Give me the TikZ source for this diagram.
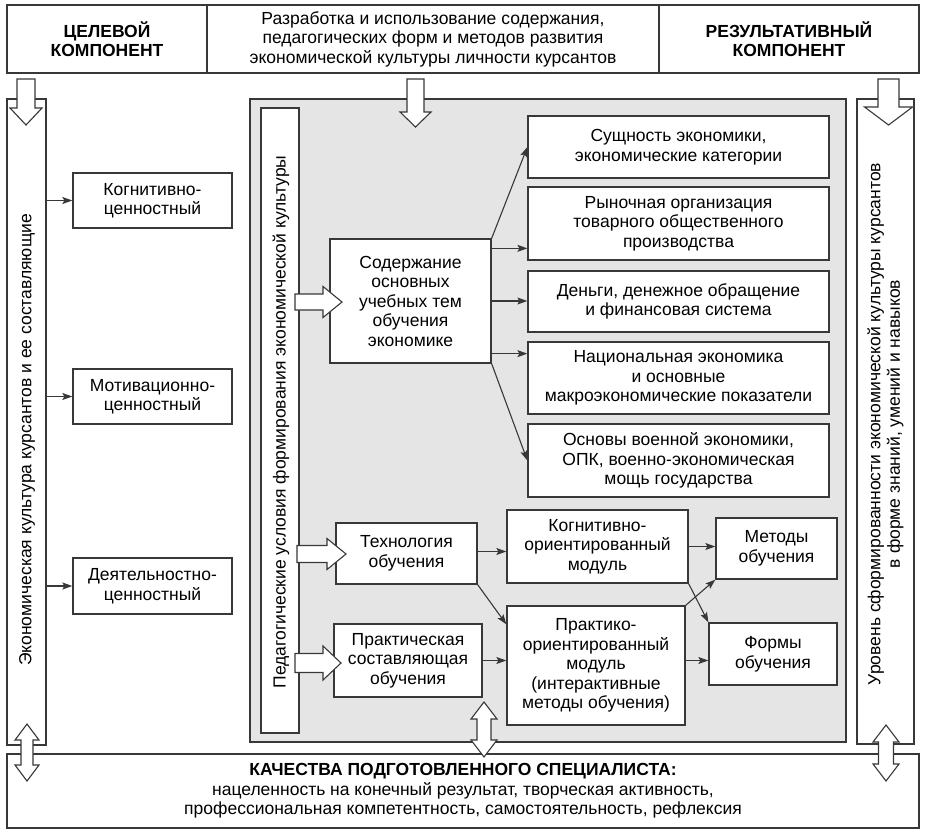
\documentclass[tikz,border=0pt]{standalone}
\usepackage{fontspec}
\setmainfont{Liberation Sans}
\usetikzlibrary{arrows.meta}
\definecolor{lc}{gray}{0.22}
\definecolor{gfill}{gray}{0.9}
\newcommand\myfs{\fontsize{17.5}{19.5}\selectfont}
% down block arrow: cx, ytop, ytip, shaft half, head half, head length
\newcommand\BlkDown[6]{\draw[blk] ({#1-#4},#2) -- ({#1+#4},#2) -- ({#1+#4},{#3-#6}) -- ({#1+#5},{#3-#6}) -- (#1,#3) -- ({#1-#5},{#3-#6}) -- ({#1-#4},{#3-#6}) -- cycle;}
% right block arrow: x0, xtip, cy, shaft half, head half, head length
\newcommand\BlkRight[6]{\draw[blk] (#1,{#3-#4}) -- ({#2-#6},{#3-#4}) -- ({#2-#6},{#3-#5}) -- (#2,#3) -- ({#2-#6},{#3+#5}) -- ({#2-#6},{#3+#4}) -- (#1,{#3+#4}) -- cycle;}
% vertical double block arrow: cx, ytop, ybot, shaft half, head half, head length
\newcommand\BlkDouble[6]{\draw[blk] (#1,#2) -- ({#1+#5},{#2+#6}) -- ({#1+#4},{#2+#6}) -- ({#1+#4},{#3-#6}) -- ({#1+#5},{#3-#6}) -- (#1,#3) -- ({#1-#5},{#3-#6}) -- ({#1-#4},{#3-#6}) -- ({#1-#4},{#2+#6}) -- ({#1-#5},{#2+#6}) -- cycle;}
\begin{document}
\begin{tikzpicture}[x=1pt,y=-1pt,
  box/.style={draw=lc, line width=1.3pt, fill=white, inner sep=0pt, align=center, font=\myfs},
  plain/.style={inner sep=0pt, align=center, font=\myfs},
  blk/.style={draw=lc, line width=1.1pt, fill=white, line join=miter},
  arr/.style={draw=lc, line width=1.1pt, -{Stealth[length=10pt,width=7pt,inset=2pt]}}]
\useasboundingbox (0,0) rectangle (928,834);
\fill[white] (0,0) rectangle (928,834);

% top row
\node[box, minimum width=200pt, minimum height=68pt] (topL) at (107,39) {\textbf{ЦЕЛЕВОЙ}\\\textbf{КОМПОНЕНТ}};
\node[box, minimum width=452pt, minimum height=68pt] (topM) at (433,39) {Разработка и использование содержания,\\педагогических форм и методов развития\\экономической культуры личности курсантов};
\node[box, minimum width=260pt, minimum height=68pt] (topR) at (789,39) {\textbf{РЕЗУЛЬТАТИВНЫЙ}\\\textbf{КОМПОНЕНТ}};

% left column
\node[box, minimum width=39pt, minimum height=646pt] (leftcol) at (26.5,422) {};
\node[plain, rotate=90] (lefttext) at (27,440) {Экономическая культура курсантов и ее составляющие};
\node[box, minimum width=159pt, minimum height=55pt] (kog) at (152.5,200.5) {Когнитивно-\\ценностный};
\node[box, minimum width=159pt, minimum height=55pt] (mot) at (152.5,396.5) {Мотивационно-\\ценностный};
\node[box, minimum width=159pt, minimum height=56pt] (dey) at (152.5,586) {Деятельностно-\\ценностный};

% grey area
\node[draw=lc, line width=1.3pt, fill=gfill, minimum width=596pt, minimum height=643pt, inner sep=0pt] (grey) at (548,420.5) {};
\node[box, minimum width=38pt, minimum height=625pt] (ped) at (280,420.5) {};
\node[plain, rotate=90] (pedtext) at (281,422) {Педагогические условия формирования экономической культуры};

\node[box, minimum width=161pt, minimum height=124pt] (sod) at (410.5,301) {Содержание\\основных\\учебных тем\\обучения\\экономике};
\node[box, minimum width=301pt, minimum height=62pt] (b1) at (678.5,147) {Сущность экономики,\\экономические категории};
\node[box, minimum width=301pt, minimum height=73pt] (b2) at (678.5,223.5) {Рыночная организация\\товарного общественного\\производства};
\node[box, minimum width=301pt, minimum height=61pt] (b3) at (678.5,301.5) {Деньги, денежное обращение\\и финансовая система};
\node[box, minimum width=301pt, minimum height=72pt] (b4) at (678.5,378) {Национальная экономика\\и основные\\макроэкономические показатели};
\node[box, minimum width=301pt, minimum height=73pt] (b5) at (678.5,460.5) {Основы военной экономики,\\ОПК, военно-экономическая\\мощь государства};

\node[box, minimum width=141pt, minimum height=61pt] (tech) at (406.5,553.5) {Технология\\обучения};
\node[box, minimum width=148pt, minimum height=73pt] (prak) at (408,660.5) {Практическая\\составляющая\\обучения};
\node[box, minimum width=181pt, minimum height=73pt] (km) at (597.5,546.5) {Когнитивно-\\ориентированный\\модуль};
\node[box, minimum width=178pt, minimum height=119pt] (pm) at (596,665.5) {Практико-\\ориентированный\\модуль\\(интерактивные\\методы обучения)};
\node[box, minimum width=121pt, minimum height=61pt] (met) at (776.5,548.5) {Методы\\обучения};
\node[box, minimum width=128pt, minimum height=62pt] (form) at (773,654) {Формы\\обучения};

% right column
\node[box, minimum width=57pt, minimum height=645pt] (rightcol) at (885.5,421.5) {};
\node[plain, rotate=90] (righttext) at (885.5,424) {Уровень сформированности экономической культуры курсантов\\в форме знаний, умений и навыков};

% bottom box
\node[box, minimum width=912pt, minimum height=74pt] (bottom) at (463,791) {\textbf{КАЧЕСТВА ПОДГОТОВЛЕННОГО СПЕЦИАЛИСТА:}\\нацеленность на конечный результат, творческая активность,\\профессиональная компетентность, самостоятельность, рефлексия};

% thin arrows
\draw[arr] (leftcol.east |- kog.west) -- (kog.west);
\draw[arr] (leftcol.east |- mot.west) -- (mot.west);
\draw[arr] (leftcol.east |- dey.west) -- (dey.west);

\draw[arr] (sod.north east) -- (b1.west);
\draw[arr] ([yshift=-10pt]sod.north east) -- ([yshift=-10pt]sod.north east -| b2.west);
\draw[arr] (sod.east) -- (sod.east -| b3.west);
\draw[arr] ([yshift=10pt]sod.south east) -- ([yshift=10pt]sod.south east -| b4.west);
\draw[arr] (sod.south east) -- (b5.west);

\draw[arr] ([yshift=2pt]tech.east) -- ([yshift=2pt]tech.east -| km.west);
\draw[arr] (tech.south east) -- ([yshift=-19pt]pm.north west);
\draw[arr] (prak.east) -- (prak.east -| pm.west);
\draw[arr] (km.east) -- (km.east -| met.west);
\draw[arr] (km.south east) -- (form.north west);
\draw[arr] (pm.north east) -- (met.south west);
\draw[arr] (pm.east |- prak.east) -- (form.west |- prak.east);

% block arrows
\BlkDown{26}{79}{125}{9}{16}{17}
\BlkDown{415.5}{79}{127}{8.5}{15.5}{15}
\BlkDown{888.5}{79}{125}{10.5}{24}{18}
\BlkRight{295}{342}{302}{8}{15.5}{19}
\BlkRight{297}{346}{554}{8.5}{15.5}{19}
\BlkRight{295}{341}{663}{9.5}{17}{18}
\BlkDouble{27}{724}{781}{6}{12}{16}
\BlkDouble{484}{702}{757}{7}{13}{17}
\BlkDouble{886}{725}{781}{7.5}{13}{17}
\end{tikzpicture}
\end{document}
